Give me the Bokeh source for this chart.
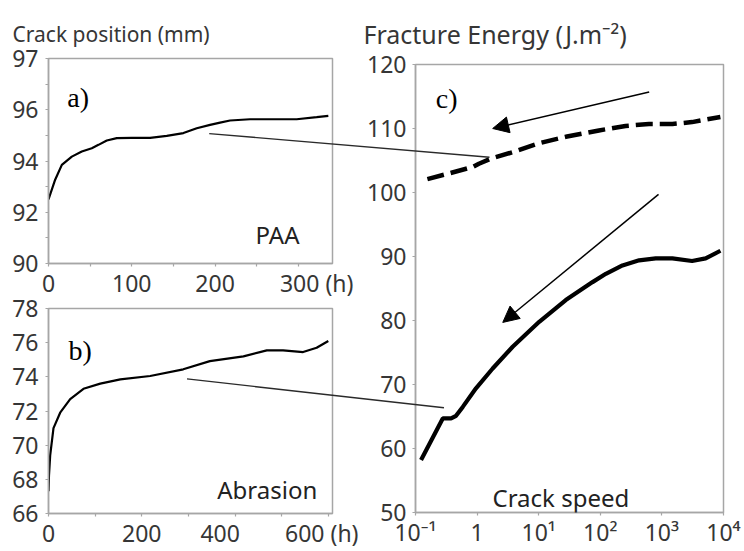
import math
from bokeh.plotting import figure
from bokeh.layouts import row, column
from bokeh.models import FixedTicker, Label, Arrow, NormalHead, Spacer
from bokeh.embed import file_html
from bokeh.resources import INLINE

# ---------------- data ----------------
# a) PAA: crack position (mm) vs time (h)
paa_time_h = [0, 8, 16, 28, 40, 52, 60, 70, 82, 100, 122, 142, 162, 178, 194, 206, 218, 242, 270, 298, 322, 336]
paa_crack_mm = [92.5, 93.27, 93.85, 94.17, 94.37, 94.5, 94.63, 94.8, 94.89, 94.9, 94.9, 94.98, 95.09, 95.28,
                95.41, 95.5, 95.58, 95.63, 95.63, 95.63, 95.71, 95.76]

# b) Abrasion: crack position (mm) vs time (h)
abr_time_h = [0, 1, 3.6, 10.7, 25, 46.5, 75, 111, 154, 218, 289, 346, 418, 468, 503, 546, 575, 600]
abr_crack_mm = [67.3, 68.2, 69.4, 71.0, 71.9, 72.7, 73.3, 73.6, 73.85, 74.05, 74.44, 74.92, 75.2, 75.55,
                75.55, 75.45, 75.7, 76.1]

# c) fracture energy vs crack speed
paa_speed = [0.156, 0.356, 0.85, 1.07, 1.68, 3.78, 10.2, 27.5, 95, 257, 617, 1480, 3090, 8900]
paa_energy = [102.1, 103.0, 104.0, 104.5, 105.3, 106.3, 107.7, 108.7, 109.7, 110.4, 110.7, 110.7, 111.0, 111.8]
abr_speed = [0.123, 0.277, 0.378, 0.455, 0.585, 0.959, 1.79, 3.78, 10.2, 27.5, 74.8, 123, 229, 427, 794,
             1479, 3090, 5129, 8913]
abr_energy = [58.2, 64.7, 64.7, 65.1, 66.5, 69.4, 72.5, 75.9, 79.8, 83.2, 86.0, 87.3, 88.6, 89.4, 89.7,
              89.7, 89.3, 89.7, 90.9]

# ticks / tick labels
a_y_ticks = [90, 92, 94, 96, 98]
a_y_labels = ["90", "92", "94", "96", "97"]
a_y_minor = [91, 93, 95, 97]
a_x_label_pos = [0, 100, 200, 322]
a_x_labels = ["0", "100", "200", "300 (h)"]
a_x_minor = [0, 50, 100, 150, 200, 250, 300]

b_y_ticks = [66, 68, 70, 72, 74, 76, 78]
b_x_label_pos = [0, 200, 368, 586]
b_x_labels = ["0", "200", "400", "600 (h)"]
b_x_minor = [0, 100, 200, 300, 400, 500, 600]

c_x_ticks = [0.1, 1, 10, 100, 1000, 10000]
c_x_labels = ["10\u207b\u00b9", "1", "10\u00b9", "10\u00b2", "10\u00b3", "10\u2074"]
c_y_ticks = [50, 60, 70, 80, 90, 100, 110, 120]

# connector lines: (panel, x, y) in a/b data  ->  (panel c, speed, energy)
connectors = [(("a", 193, 95.07), ("c", 1.59, 105.5)),
              (("b", 297, 73.88), ("c", 0.29, 66.36))]
# arrows in panel c: tail -> tip (speed, energy)
arrows_c = [((622, 115.7), (1.79, 110.0)), ((881, 99.7), (2.61, 79.7))]

# ---------------- geometry (px) ----------------
TOTAL_W, TOTAL_H = 744, 551
LEFT_W = 363
RIGHT_W = TOTAL_W - LEFT_W
A_H = 301          # panel a canvas (drawn on top, overlapping panel b's top margin)
B_TOP = 287        # where panel b's canvas starts
B_H = TOTAL_H - B_TOP
OFFSETS = {"a": (0, 0), "b": (0, B_TOP), "c": (LEFT_W, 0)}
FRAMES = {"a": (48, 332, 58, 263), "b": (48, 332, 21, 226), "c": (52, 360, 64, 512)}  # l, r, t, b
RANGES = {"a": ((0, 341), (90, 98), False), "b": ((0, 609), (66, 78), False),
          "c": ((0.1, 10000), (50, 120), True)}


def to_px(panel, x, y):
    (x0, x1), (y0, y1), lg = RANGES[panel]
    l, r, t, b = FRAMES[panel]
    ox, oy = OFFSETS[panel]
    if lg:
        fx = (math.log10(x) - math.log10(x0)) / (math.log10(x1) - math.log10(x0))
    else:
        fx = (x - x0) / (x1 - x0)
    fy = (y - y0) / (y1 - y0)
    return ox + l + fx * (r - l), oy + b - fy * (b - t)


def to_data(panel, px, py):
    (x0, x1), (y0, y1), lg = RANGES[panel]
    l, r, t, b = FRAMES[panel]
    ox, oy = OFFSETS[panel]
    fx = (px - ox - l) / (r - l)
    fy = (b - (py - oy)) / (b - t)
    if lg:
        x = 10 ** (math.log10(x0) + fx * (math.log10(x1) - math.log10(x0)))
    else:
        x = x0 + fx * (x1 - x0)
    return x, y0 + fy * (y1 - y0)


FRAME_COL = "#a6a6a6"
TXT_COL = "#363636"
SANS = "Noto Sans"
SERIF = "Liberation Serif"


def make_fig(panel, w, h, **kw):
    (x0, x1), (y0, y1), lg = RANGES[panel]
    l, r, t, b = FRAMES[panel]
    p = figure(width=w, height=h, x_range=(x0, x1), y_range=(y0, y1),
               x_axis_type="log" if lg else "linear",
               toolbar_location=None, output_backend="svg",
               min_border_left=l, min_border_right=w - r, min_border_top=t, min_border_bottom=h - b, **kw)
    p.outline_line_color = FRAME_COL
    p.outline_line_width = 1.5
    p.background_fill_color = "white"
    p.border_fill_color = "white"
    p.grid.visible = False
    for ax in p.axis:
        ax.axis_line_color = FRAME_COL
        ax.axis_line_width = 1.5
        ax.major_tick_line_color = FRAME_COL
        ax.minor_tick_line_color = FRAME_COL
        ax.major_tick_line_width = 1.2
        ax.minor_tick_line_width = 1.2
        ax.major_tick_in = 0
        ax.minor_tick_in = 0
        ax.major_tick_out = 3
        ax.minor_tick_out = 3
        ax.major_label_text_font = SANS
        ax.major_label_text_font_size = "23px"
        ax.major_label_text_color = TXT_COL
    p.xaxis.major_label_standoff = 0
    p.yaxis.major_label_standoff = 7
    return p


def add_label(p, panel, px, py, text, size, font=SANS, color="#222222"):
    x, y = to_data(panel, px, py)
    p.add_layout(Label(x=x, y=y, text=text, text_font=font, text_font_size=size,
                       text_color=color, text_baseline="alphabetic", text_align="left"))


# ---------------- panel a (positioned on top, transparent border) ----------------
pa = make_fig("a", LEFT_W, A_H,
              styles={"position": "absolute", "left": "0px", "top": "0px", "z-index": "2"})
pa.border_fill_color = None
pa.line(paa_time_h, paa_crack_mm, line_color="black", line_width=2.2)
pa.xaxis.ticker = FixedTicker(ticks=a_x_label_pos, minor_ticks=a_x_minor)
pa.xaxis.major_label_overrides = dict(zip(a_x_label_pos, a_x_labels))
pa.xaxis.major_tick_out = 0
pa.yaxis.ticker = FixedTicker(ticks=a_y_ticks, minor_ticks=a_y_minor)
pa.yaxis.major_label_overrides = dict(zip(a_y_ticks, a_y_labels))

# ---------------- panel b ----------------
pb = make_fig("b", LEFT_W, B_H)
pb.line(abr_time_h, abr_crack_mm, line_color="black", line_width=2.2)
pb.xaxis.ticker = FixedTicker(ticks=b_x_label_pos, minor_ticks=b_x_minor)
pb.xaxis.major_label_overrides = dict(zip(b_x_label_pos, b_x_labels))
pb.xaxis.major_tick_out = 0
pb.yaxis.ticker = FixedTicker(ticks=b_y_ticks, minor_ticks=[])

# ---------------- panel c ----------------
pc = make_fig("c", RIGHT_W, TOTAL_H)
pc.line(paa_speed, paa_energy, line_color="black", line_width=4.5, line_dash="17 7")
pc.line(abr_speed, abr_energy, line_color="black", line_width=4.2)
pc.xaxis.ticker = FixedTicker(ticks=c_x_ticks, minor_ticks=[])
pc.xaxis.major_label_overrides = dict(zip(c_x_ticks, c_x_labels))
pc.yaxis.ticker = FixedTicker(ticks=c_y_ticks, minor_ticks=[])
pc.yaxis.major_label_standoff = 6

for tail, tip in arrows_c:
    pc.add_layout(Arrow(x_start=tail[0], y_start=tail[1], x_end=tip[0], y_end=tip[1],
                        line_color="black", line_width=1.5,
                        end=NormalHead(size=16, fill_color="black", line_color="black", line_width=1)))

# in-frame texts
add_label(pa, "a", 66.7, 96.7, "a)", "28px", font=SERIF, color="black")
add_label(pa, "a", 255, 234.3, "PAA", "24px")
add_label(pb, "b", 68, 350, "b)", "28px", font=SERIF, color="black")
add_label(pb, "b", 216.7, 489.3, "Abrasion", "24px")
add_label(pc, "c", 435.3, 98, "c)", "28px", font=SERIF, color="black")
add_label(pc, "c", 492, 496.7, "Crack speed", "24px")

# ---------------- transparent overlay spanning all panels ----------------
po = figure(width=TOTAL_W, height=TOTAL_H, x_range=(0, TOTAL_W), y_range=(TOTAL_H, 0),
            toolbar_location=None, output_backend="svg",
            x_axis_location=None, y_axis_location=None,
            min_border_left=0, min_border_right=0, min_border_top=0, min_border_bottom=0,
            styles={"position": "absolute", "left": "0px", "top": "0px",
                    "z-index": "10", "pointer-events": "none"})
po.grid.visible = False
po.outline_line_color = None
po.background_fill_color = None
po.border_fill_color = None

sx0, sy0, sx1, sy1 = [], [], [], []
for (pan0, x0, y0), (pan1, x1, y1) in connectors:
    s = to_px(pan0, x0, y0)
    e = to_px(pan1, x1, y1)
    sx0.append(s[0]); sy0.append(s[1]); sx1.append(e[0]); sy1.append(e[1])
po.segment(x0=sx0, y0=sy0, x1=sx1, y1=sy1, line_color="#2a2a2a", line_width=1.4)

po.add_layout(Label(x=12, y=33.3, text="Crack position (mm)", text_font=SANS, text_font_size="21px",
                    text_color=TXT_COL, text_baseline="alphabetic"))
po.add_layout(Label(x=363, y=33.3, text="Fracture Energy (J.m\u207b\u00b2)", text_font=SANS,
                    text_font_size="25px", text_color=TXT_COL, text_baseline="alphabetic"))

left_col = column(pa, Spacer(width=LEFT_W, height=B_TOP), pb)
layout = column(po, row(left_col, pc))
open("out.html", "w").write(file_html(layout, INLINE))
